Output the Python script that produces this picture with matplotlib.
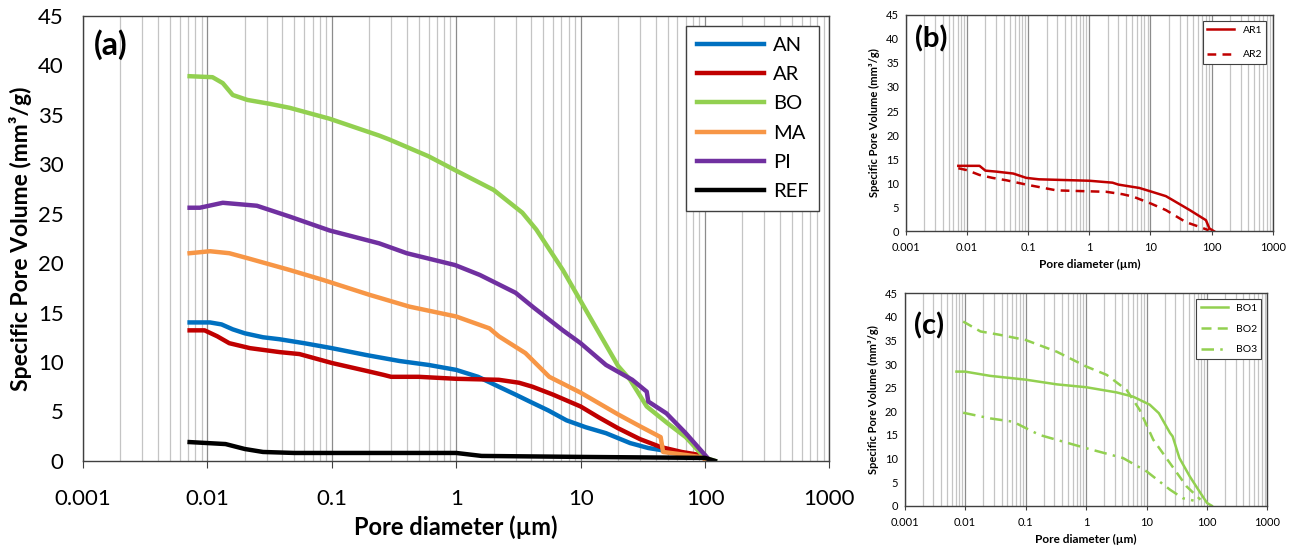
import numpy as np
import matplotlib.pyplot as plt
from matplotlib.ticker import LogLocator, NullFormatter, FixedLocator

plt.rcParams['font.family'] = ['Lato', 'DejaVu Sans']

# Main panel (a) data: pore diameter (um) and specific pore volume (mm3/g)
an_d = [0.0072, 0.0105, 0.013, 0.016, 0.02, 0.028, 0.038, 0.06, 0.1, 0.19, 0.35, 0.6, 1.0,
        1.5, 2.2, 3.0, 3.9, 5.5, 7.7, 11, 16, 25, 35, 44, 50]
an_v = [14.0, 14.0, 13.8, 13.3, 12.9, 12.5, 12.3, 11.9, 11.4, 10.7, 10.1, 9.7, 9.2,
        8.5, 7.5, 6.7, 6.0, 5.1, 4.1, 3.4, 2.8, 1.8, 1.3, 1.1, 0.9]

ar_d = [0.0072, 0.0095, 0.012, 0.015, 0.022, 0.038, 0.055, 0.1, 0.19, 0.26, 0.3, 0.5, 1.0,
        2.2, 3.2, 4.1, 6, 10, 14, 20, 30, 44, 65, 90, 105]
ar_v = [13.2, 13.2, 12.6, 11.9, 11.4, 11.0, 10.8, 9.9, 9.1, 8.7, 8.5, 8.5, 8.3,
        8.2, 7.9, 7.5, 6.7, 5.5, 4.4, 3.3, 2.2, 1.4, 0.9, 0.6, 0.0]

bo_d = [0.0072, 0.011, 0.0133, 0.016, 0.021, 0.032, 0.046, 0.096, 0.24, 0.29, 0.6, 0.98,
        2.0, 3.4, 4.4, 7.2, 11.8, 20, 25, 34, 50, 70, 100, 120]
bo_v = [38.9, 38.8, 38.2, 37.0, 36.5, 36.1, 35.7, 34.6, 32.9, 32.5, 30.8, 29.4,
        27.4, 25.1, 23.4, 19.3, 14.6, 9.6, 8.2, 5.5, 3.8, 2.4, 0.3, 0.0]

ma_d = [0.0072, 0.0105, 0.015, 0.021, 0.046, 0.085, 0.2, 0.42, 1.0, 1.85, 2.2, 3.6, 5.6,
        10, 20, 30, 44, 46, 70, 90, 110]
ma_v = [21.0, 21.2, 21.0, 20.5, 19.3, 18.3, 16.8, 15.6, 14.6, 13.4, 12.6, 10.9, 8.5,
        6.9, 4.7, 3.5, 2.4, 0.9, 0.6, 0.4, 0.0]

pi_d = [0.0072, 0.0087, 0.0133, 0.025, 0.046, 0.096, 0.24, 0.4, 0.98, 1.55, 3.0, 4.2, 7.2,
        10, 16, 26, 34, 35, 49, 70, 110]
pi_v = [25.6, 25.6, 26.1, 25.8, 24.7, 23.3, 22.0, 21.0, 19.8, 18.8, 17.0, 15.5, 13.2,
        11.9, 9.7, 8.2, 7.0, 6.0, 4.8, 2.8, 0.0]

ref_d = [0.0072, 0.014, 0.02, 0.028, 0.05, 1.0, 1.6, 10, 100, 120]
ref_v = [1.9, 1.7, 1.2, 0.9, 0.8, 0.8, 0.5, 0.4, 0.3, 0.0]

# Panel (b): AR replicates
ar1_d = [0.0072, 0.016, 0.02, 0.03, 0.057, 0.093, 0.15, 1.0, 2.4, 3.0, 6.6, 10, 17.9, 23,
         44, 81, 92, 110]
ar1_v = [13.6, 13.6, 12.6, 12.4, 12.0, 11.1, 10.8, 10.5, 10.1, 9.7, 9.0, 8.3, 7.3, 6.5,
         4.4, 2.3, 0.6, 0.0]
ar2_d = [0.0072, 0.01, 0.016, 0.026, 0.044, 0.093, 0.29, 1.9, 3.5, 5.2, 10, 17.9, 38, 64, 90]
ar2_v = [13.1, 12.7, 11.7, 11.1, 10.6, 9.7, 8.5, 8.2, 7.7, 7.2, 5.8, 4.4, 1.9, 0.9, 0.2]

# Panel (c): BO replicates
bo1_d = [0.0072, 0.01, 0.026, 0.1, 0.33, 1.0, 3.2, 6.0, 11.3, 16, 24.5, 27, 35, 52, 78,
         100, 120]
bo1_v = [28.4, 28.4, 27.5, 26.7, 25.7, 25.1, 24.0, 23.1, 21.4, 19.6, 15.4, 14.7, 10.1,
         6.2, 2.7, 0.6, 0.0]
bo2_d = [0.0093, 0.018, 0.037, 0.1, 0.33, 1.0, 2.2, 4.7, 7.7, 12.9, 24.5, 46, 78]
bo2_v = [39.0, 36.9, 36.2, 35.1, 32.6, 29.5, 27.7, 24.5, 20.3, 14.0, 9.0, 4.1, 1.3]
bo3_d = [0.0093, 0.026, 0.062, 0.17, 1.0, 4.1, 10, 24.5, 40, 60]
bo3_v = [19.7, 18.5, 17.8, 15.0, 12.2, 10.1, 7.3, 3.4, 1.6, 1.1]

xticks = [0.001, 0.01, 0.1, 1, 10, 100, 1000]
xtick_labels = ['0.001', '0.01', '0.1', '1', '10', '100', '1000']

c_an, c_ar, c_bo = '#0070C0', '#C00000', '#92D050'
c_ma, c_pi, c_ref = '#F79646', '#7030A0', '#000000'


def style_axes(ax, tick_size, label_size, ylabel_size):
    ax.set_xscale('log')
    ax.set_xlim(0.001, 1000)
    ax.set_ylim(0, 45)
    ax.set_yticks(range(0, 46, 5))
    ax.xaxis.set_major_locator(FixedLocator(xticks))
    ax.set_xticklabels(xtick_labels)
    ax.xaxis.set_minor_locator(LogLocator(base=10, subs=np.arange(2, 10), numticks=20))
    ax.xaxis.set_minor_formatter(NullFormatter())
    ax.grid(True, which='major', axis='x', color='#8c8c8c', lw=0.9)
    ax.grid(True, which='minor', axis='x', color='#c4c4c4', lw=0.9)
    ax.set_axisbelow(True)
    ax.tick_params(axis='x', which='major', direction='out', length=5, color='#404040',
                   labelsize=tick_size, pad=15)
    ax.tick_params(axis='x', which='minor', length=0)
    ax.tick_params(axis='y', length=0, labelsize=tick_size, pad=14)
    for s in ax.spines.values():
        s.set_color('#404040')
        s.set_linewidth(1.0)
    ax.set_xlabel('Pore diameter (µm)', fontsize=label_size, fontweight='bold')
    ax.set_ylabel('Specific Pore Volume (mm³/g)', fontsize=ylabel_size, fontweight='bold')


fig = plt.figure(figsize=(12.96, 5.48), dpi=100)

# (a) main panel
ax = fig.add_axes([0.064, 0.159, 0.576, 0.812])
style_axes(ax, 16, 17, 16.5)
lw = 3.2
ax.plot(an_d, an_v, color=c_an, lw=lw, label='AN')
ax.plot(ar_d, ar_v, color=c_ar, lw=lw, label='AR')
ax.plot(bo_d, bo_v, color=c_bo, lw=lw, label='BO')
ax.plot(ma_d, ma_v, color=c_ma, lw=lw, label='MA')
ax.plot(pi_d, pi_v, color=c_pi, lw=lw, label='PI')
ax.plot(ref_d, ref_v, color=c_ref, lw=lw, label='REF')
leg = ax.legend(loc='upper right', fontsize=14.5, handlelength=3.3, handletextpad=0.45,
                labelspacing=0.6, borderpad=0.55, fancybox=False, edgecolor='#404040',
                framealpha=1, borderaxespad=0.5)
leg.get_frame().set_linewidth(1.0)
ax.text(0.015, 0.97, '(a)', transform=ax.transAxes, fontsize=23, fontweight='bold',
        va='top', ha='left')
ax.xaxis.labelpad = 5

# (b) AR replicates
axb = fig.add_axes([0.699, 0.578, 0.283, 0.395])
style_axes(axb, 8, 8.5, 8)
axb.tick_params(axis='x', which='major', length=3, pad=5)
axb.tick_params(axis='y', pad=5)
axb.plot(ar1_d, ar1_v, color=c_ar, lw=1.8, label='AR1')
axb.plot(ar2_d, ar2_v, color=c_ar, lw=1.8, ls=(0, (3.5, 2.5)), label='AR2')
lb = axb.legend(loc='upper right', fontsize=7.5, handlelength=2.6, labelspacing=1.5,
                fancybox=False, edgecolor='#404040', framealpha=1, borderaxespad=0.6)
lb.get_frame().set_linewidth(0.8)
axb.text(0.025, 0.95, '(b)', transform=axb.transAxes, fontsize=21, fontweight='bold',
         va='top', ha='left')

# (c) BO replicates
axc = fig.add_axes([0.698, 0.077, 0.280, 0.388])
style_axes(axc, 8, 8.5, 8)
axc.tick_params(axis='x', which='major', length=3, pad=5)
axc.tick_params(axis='y', pad=5)
axc.plot(bo1_d, bo1_v, color=c_bo, lw=1.8, label='BO1')
axc.plot(bo2_d, bo2_v, color=c_bo, lw=1.8, ls=(0, (4, 2.5)), label='BO2')
axc.plot(bo3_d, bo3_v, color=c_bo, lw=1.8, ls=(0, (5, 2.5, 1, 2.5)), label='BO3')
lc = axc.legend(loc='upper right', fontsize=7.5, handlelength=2.6, labelspacing=1.1,
                fancybox=False, edgecolor='#404040', framealpha=1, borderaxespad=0.6)
lc.get_frame().set_linewidth(0.8)
axc.text(0.025, 0.91, '(c)', transform=axc.transAxes, fontsize=21, fontweight='bold',
         va='top', ha='left')

fig.savefig('out.png', dpi=100)
